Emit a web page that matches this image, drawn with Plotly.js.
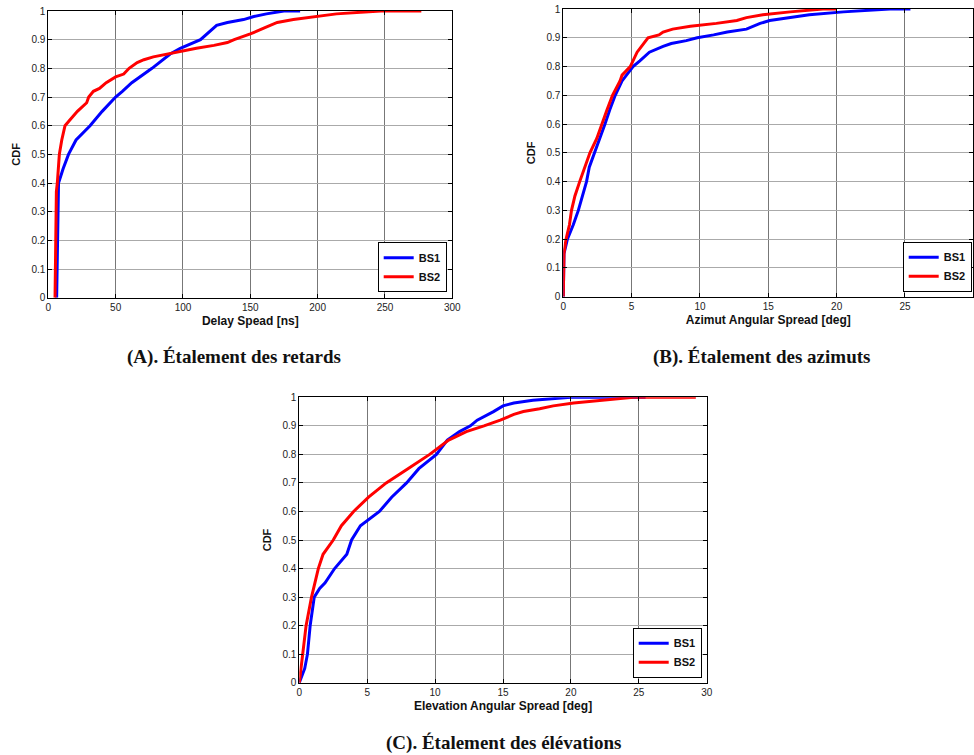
<!DOCTYPE html>
<html><head><meta charset="utf-8">
<script src="https://cdn.plot.ly/plotly-3.0.1.min.js"></script>
<style>html,body{margin:0;padding:0;background:#fff}#g{width:974px;height:755px}</style>
</head><body><div id="g"></div>
<script>
// CDF levels (y) and spread values (x)
const cdfA1 = [0, 0.28, 0.40, 0.45, 0.50, 0.55, 0.60, 0.65, 0.70, 0.72, 0.75, 0.80, 0.85, 0.87, 0.90, 0.95, 0.96, 0.97, 0.98, 0.99, 1.0, 1.0];
const delayBS1 = [6.2, 7.2, 7.6, 11, 15, 20.6, 31, 40, 50, 55, 62, 77, 90.5, 98, 113, 125, 133, 145, 152, 162, 175, 187];
const cdfA2 = [0, 0.37, 0.40, 0.45, 0.50, 0.55, 0.60, 0.62, 0.65, 0.68, 0.70, 0.72, 0.73, 0.75, 0.77, 0.78, 0.80, 0.82, 0.83, 0.84, 0.85, 0.86, 0.87, 0.88, 0.89, 0.90, 0.92, 0.94, 0.96, 0.97, 0.98, 0.99, 1.0, 1.0];
const delayBS2 = [5, 6, 6.7, 7.4, 8.2, 10, 12.4, 16, 21.6, 28.5, 30, 33.5, 38, 43, 50, 56, 60, 66, 71, 78, 88, 98, 110, 123, 133, 138, 150, 160, 170, 182, 200, 214, 247, 277];

const cdfB1 = [0, 0.15, 0.20, 0.25, 0.30, 0.35, 0.40, 0.45, 0.50, 0.55, 0.60, 0.65, 0.70, 0.75, 0.80, 0.82, 0.85, 0.87, 0.88, 0.89, 0.90, 0.91, 0.92, 0.93, 0.95, 0.96, 0.97, 0.98, 0.99, 1.0, 1.0];
const aziBS1 = [0, 0.05, 0.3, 0.73, 1.1, 1.4, 1.7, 1.9, 2.3, 2.7, 3.05, 3.4, 3.8, 4.3, 5.1, 5.6, 6.3, 7.3, 7.9, 9.0, 9.8, 11, 12, 13.4, 14.4, 15.1, 16.6, 18, 20.5, 23.9, 25.4];
const cdfB2 = [0, 0.15, 0.20, 0.25, 0.30, 0.35, 0.40, 0.45, 0.50, 0.55, 0.60, 0.65, 0.70, 0.75, 0.77, 0.80, 0.85, 0.88, 0.90, 0.91, 0.92, 0.93, 0.94, 0.95, 0.96, 0.97, 0.98, 0.99, 1.0, 1.0];
const aziBS2 = [0, 0.05, 0.2, 0.45, 0.6, 0.85, 1.2, 1.6, 1.95, 2.45, 2.8, 3.2, 3.6, 4.15, 4.3, 4.9, 5.4, 5.85, 6.2, 7, 7.3, 8, 9.3, 11.2, 12.7, 13.4, 14.6, 16.6, 19, 20];

const cdfC1 = [0, 0.05, 0.10, 0.20, 0.30, 0.33, 0.35, 0.40, 0.45, 0.50, 0.55, 0.60, 0.65, 0.70, 0.75, 0.80, 0.85, 0.88, 0.90, 0.92, 0.95, 0.97, 0.98, 0.99, 1.0, 1.0];
const eleBS1 = [0, 0.4, 0.6, 0.8, 1.1, 1.5, 1.9, 2.6, 3.5, 3.85, 4.5, 5.9, 6.8, 7.9, 8.8, 10.1, 10.9, 11.8, 12.6, 13.1, 14.3, 15, 15.8, 17.2, 20, 25.5];
const cdfC2 = [0, 0.10, 0.20, 0.30, 0.35, 0.40, 0.45, 0.50, 0.55, 0.60, 0.65, 0.70, 0.75, 0.80, 0.85, 0.88, 0.90, 0.92, 0.94, 0.95, 0.96, 0.97, 0.98, 0.99, 1.0, 1.0];
const eleBS2 = [0, 0.25, 0.5, 0.9, 1.15, 1.4, 1.75, 2.5, 3.1, 4, 5.1, 6.4, 8, 9.6, 11, 12.3, 13.6, 14.8, 15.8, 16.5, 17.7, 18.7, 20.2, 22.2, 24.6, 29.2];

const seriesNames = ['BS1', 'BS2'];
const xTitles = ['Delay Spead [ns]', 'Azimut Angular Spread [deg]', 'Elevation Angular Spread [deg]'];
const captions = ['(A). Étalement des retards', '(B). Étalement des azimuts', '(C). Étalement des élévations'];
const yTicks = [0, 0.1, 0.2, 0.3, 0.4, 0.5, 0.6, 0.7, 0.8, 0.9, 1];
const yTickText = ['0', '0.1', '0.2', '0.3', '0.4', '0.5', '0.6', '0.7', '0.8', '0.9', '1'];

const W = 974, H = 755;
const BLUE = '#0000ff', RED = '#ff0000';
const lw = 3;

function tr(x, y, name, color, xa, ya, leg) {
  return {x: x, y: y, name: name, type: 'scatter', mode: 'lines', line: {color: color, width: lw},
          xaxis: xa, yaxis: ya, legend: leg, showlegend: true, hoverinfo: 'skip'};
}
const data = [
  tr(delayBS1, cdfA1, seriesNames[0], BLUE, 'x', 'y', 'legend'),
  tr(delayBS2, cdfA2, seriesNames[1], RED, 'x', 'y', 'legend'),
  tr(aziBS1, cdfB1, seriesNames[0], BLUE, 'x2', 'y2', 'legend2'),
  tr(aziBS2, cdfB2, seriesNames[1], RED, 'x2', 'y2', 'legend2'),
  tr(eleBS1, cdfC1, seriesNames[0], BLUE, 'x3', 'y3', 'legend3'),
  tr(eleBS2, cdfC2, seriesNames[1], RED, 'x3', 'y3', 'legend3')
];

const tickFont = {family: 'Liberation Sans, Arial, sans-serif', size: 10, color: '#222'};
const titleFont = {family: 'Liberation Sans, Arial, sans-serif', size: 12, color: '#111', weight: 'bold'};

function xax(domPx, range, dtick, title, anchor) {
  return {domain: [domPx[0] / W, domPx[1] / W], range: range, dtick: dtick, tick0: 0, anchor: anchor,
    showgrid: true, gridcolor: '#777', gridwidth: 1, zeroline: false,
    showline: true, linecolor: '#000', linewidth: 1, mirror: 'ticks', ticks: 'inside', ticklen: 4, tickcolor: '#000',
    tickfont: tickFont, title: {text: '<b>' + title + '</b>', font: titleFont, standoff: 4}, automargin: false, fixedrange: true};
}
function yax(domPx, anchor) {
  return {domain: [1 - domPx[1] / H, 1 - domPx[0] / H], range: [0, 1], tickvals: yTicks, ticktext: yTickText, anchor: anchor,
    showgrid: true, gridcolor: '#aaa', gridwidth: 1, zeroline: false,
    showline: true, linecolor: '#000', linewidth: 1, mirror: 'ticks', ticks: 'inside', ticklen: 4, tickcolor: '#000',
    tickfont: tickFont, title: {text: '<b>CDF</b>', font: {family: titleFont.family, size: 11, color: '#111', weight: 'bold'}, standoff: 8},
    automargin: false, fixedrange: true};
}
function leg(rightPx, bottomPx) {
  return {x: rightPx / W, y: 1 - bottomPx / H, xanchor: 'right', yanchor: 'bottom', bgcolor: '#fff',
    bordercolor: '#000', borderwidth: 1, font: {family: 'Liberation Sans, Arial, sans-serif', size: 11, color: '#111', weight: 'bold'},
    tracegroupgap: 0, itemwidth: 30};
}

const layout = {
  width: W, height: H, margin: {l: 0, r: 0, t: 0, b: 0}, paper_bgcolor: '#fff', plot_bgcolor: '#fff',
  xaxis: xax([48.3, 452.3], [0, 300], 50, xTitles[0], 'y'),
  yaxis: yax([11, 297.7], 'x'),
  xaxis2: xax([563.3, 973.3], [0, 30], 5, xTitles[1], 'y2'),
  yaxis2: yax([9, 296.7], 'x2'),
  xaxis3: xax([299.3, 706.7], [0, 30], 5, xTitles[2], 'y3'),
  yaxis3: yax([397.3, 682.7], 'x3'),
  legend: leg(446.7, 292.3),
  legend2: leg(971.7, 291.7),
  legend3: leg(701.7, 677.7),
  annotations: [
    {text: '<b>' + captions[0] + '</b>', x: 234 / W, y: 1 - 357 / H},
    {text: '<b>' + captions[1] + '</b>', x: 761 / W, y: 1 - 357 / H},
    {text: '<b>' + captions[2] + '</b>', x: 503 / W, y: 1 - 743 / H}
  ].map(a => Object.assign(a, {xref: 'paper', yref: 'paper', xanchor: 'center', yanchor: 'middle', showarrow: false,
      font: {family: 'Liberation Serif, Times New Roman, serif', size: 19, color: '#111'}}))
};

Plotly.newPlot('g', data, layout, {staticPlot: true, displayModeBar: false});
</script>
</body></html>
